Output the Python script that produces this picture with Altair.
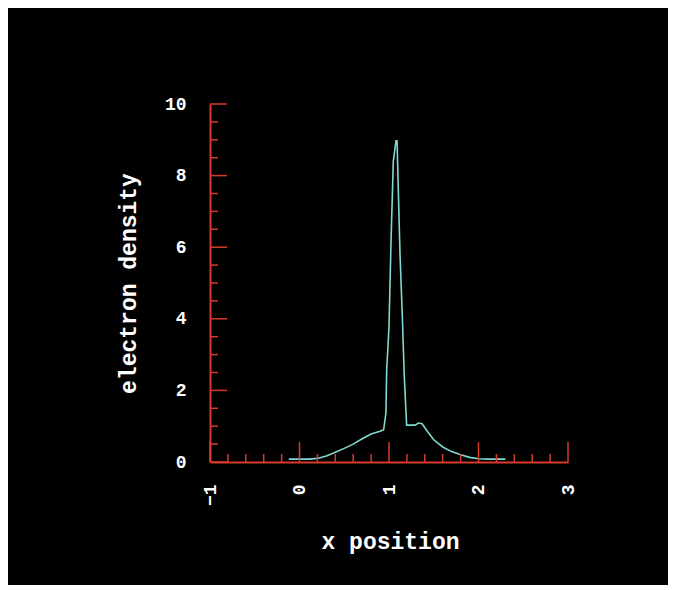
import altair as alt
import pandas as pd

# electron density profile
x_pos = [-0.12, 0.0, 0.1, 0.2, 0.3, 0.4, 0.5, 0.6, 0.7, 0.8, 0.9, 0.94, 0.966, 0.974,
         1.0, 1.022, 1.048, 1.078, 1.09, 1.104, 1.123, 1.149, 1.171, 1.197, 1.25, 1.29,
         1.33, 1.37, 1.43, 1.5, 1.6, 1.7, 1.8, 1.9, 2.0, 2.1, 2.2, 2.3]
density = [0.08, 0.08, 0.08, 0.1, 0.17, 0.27, 0.38, 0.5, 0.65, 0.78, 0.86, 0.9, 1.37, 2.57,
           3.77, 6.1, 8.4, 8.97, 8.97, 7.6, 5.8, 4.05, 2.37, 1.03, 1.03, 1.03,
           1.09, 1.07, 0.85, 0.62, 0.42, 0.29, 0.2, 0.13, 0.09, 0.08, 0.08, 0.08]

x_ticks = [-1, 0, 1, 2, 3]
x_minor = [-0.8, -0.6, -0.4, -0.2, 0.2, 0.4, 0.6, 0.8, 1.2, 1.4, 1.6, 1.8,
           2.2, 2.4, 2.6, 2.8]
y_ticks = [0, 2, 4, 6, 8, 10]
y_minor = [0.5, 1, 1.5, 2.5, 3, 3.5, 4.5, 5, 5.5, 6.5, 7, 7.5, 8.5, 9, 9.5]

W, H = 358, 358
RED = "#d83a2a"
FONT = "Liberation Mono"

xs = alt.Scale(domain=[-1, 3], nice=False, zero=False)
ys = alt.Scale(domain=[0, 10], nice=False)

x_axis = alt.Axis(
    values=x_ticks, title="x position", labelAngle=270, ticks=False, tickSize=0,
    labelPadding=22, grid=False, domainColor=RED, domainWidth=2,
    labelColor="white", labelFont=FONT, labelFontSize=18, labelFontWeight="bold",
    titleColor="white", titleFont=FONT, titleFontSize=23, titleFontWeight="bold",
    titleX=180, titleY=86, titleBaseline="alphabetic", titleAlign="center")
y_axis = alt.Axis(
    values=y_ticks, title="electron density", ticks=False, tickSize=0,
    labelPadding=24, grid=False, domainColor=RED, domainWidth=2,
    labelColor="white", labelFont=FONT, labelFontSize=18, labelFontWeight="bold",
    titleColor="white", titleFont=FONT, titleFontSize=23, titleFontWeight="bold",
    titleAngle=270, titleX=-75, titleY=179, titleBaseline="alphabetic",
    titleAlign="center")

line_df = pd.DataFrame({"x": x_pos, "y": density})
line = alt.Chart(line_df).mark_line(color="#80d8d0", strokeWidth=1.6).encode(
    x=alt.X("x:Q", scale=xs, axis=x_axis),
    y=alt.Y("y:Q", scale=ys, axis=y_axis),
)

def xtick(vals, length):
    return alt.Chart(pd.DataFrame({"x": vals})).mark_rule(color=RED, strokeWidth=1.5).encode(
        x=alt.X("x:Q", scale=xs, axis=x_axis),
        y=alt.value(H), y2=alt.value(H - length))

def ytick(vals, length):
    return alt.Chart(pd.DataFrame({"y": vals})).mark_rule(color=RED, strokeWidth=1.5).encode(
        y=alt.Y("y:Q", scale=ys, axis=y_axis),
        x=alt.value(0), x2=alt.value(length))

chart = alt.layer(
    line, xtick(x_ticks, 20), xtick(x_minor, 8), ytick(y_ticks, 17), ytick(y_minor, 8)
).properties(
    width=W, height=H,
    autosize=alt.AutoSizeParams(type="none"),
    padding={"left": 202, "top": 96, "right": 100, "bottom": 123},
    background="black",
).configure_view(strokeWidth=0)

chart.save("out.html", embed_options={"renderer": "svg", "actions": False})
